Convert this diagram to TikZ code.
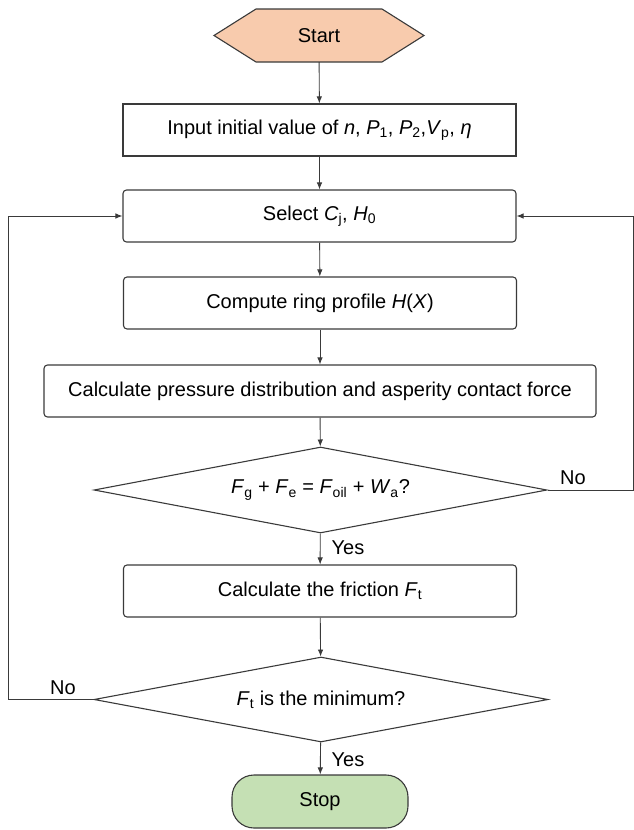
\documentclass[tikz,border=0pt]{standalone}
\usepackage{fontspec}
\setmainfont{Liberation Sans}
\usetikzlibrary{arrows.meta,shapes.geometric}
\definecolor{peach}{HTML}{F8CBAD}
\definecolor{mint}{HTML}{C5E0B4}
\definecolor{edge}{HTML}{3A3A3A}
\newcommand{\lo}[1]{\textsubscript{#1}}
\begin{document}
\begin{tikzpicture}[x=1pt,y=-1pt,
  txt/.style={font=\fontsize{20}{24}\selectfont},
  box/.style={txt, draw=edge, line width=1.1pt, minimum width=393pt, minimum height=52pt, inner sep=0pt},
  rbox/.style={box, rounded corners=3.5pt},
  dia/.style={txt, shape=diamond, draw=edge, line width=1.1pt, aspect=5.3, inner sep=0pt, minimum width=453pt, minimum height=86pt},
  arr/.style={draw=edge, line width=0.9pt, -{Latex[length=7pt,width=5.5pt]}},
  lbl/.style={txt, inner sep=0pt}
]
\useasboundingbox (0,0) rectangle (634,830);

% Start
\fill[peach] (214,35.5) -- (256,9) -- (382,9) -- (424,35.5) -- (382,62) -- (256,62) -- cycle;
\draw[edge, line width=1.1pt] (214,35.5) -- (256,9) -- (382,9) -- (424,35.5) -- (382,62) -- (256,62) -- cycle;
\node[txt, minimum width=210pt, minimum height=53pt, inner sep=0pt] (start) at (319,35.5) {Start};

\node[box] (input) at (319.5,130) {Input initial value of \textit{n}, \textit{P}\lo{1}, \textit{P}\lo{2},\textit{V}\lo{p}, \textit{η}};
\node[rbox] (select) at (319.5,216) {Select \textit{C}\lo{j}, \textit{H}\lo{0}};
\node[rbox] (compute) at (320,303) {Compute ring profile \textit{H}(\textit{X})};
\node[rbox, minimum width=552pt] (pressure) at (320,391) {Calculate pressure distribution and asperity contact force};
\node[dia] (d1) at (320.5,490) {\textit{F}\lo{g} + \textit{F}\lo{e} = \textit{F}\lo{oil} + \textit{W}\lo{a}?};
\node[rbox] (fric) at (320,591) {Calculate the friction \textit{F}\lo{t}};
\node[dia, minimum width=454pt, minimum height=85pt] (d2) at (321,699.5) {\textit{F}\lo{t} is the minimum?};
\node[txt, draw=edge, line width=1.1pt, fill=mint, minimum width=176pt, minimum height=53pt, rounded corners=22pt, inner sep=0pt] (stop) at (320,801.5) {Stop};

\draw[arr] (start) -- (input);
\draw[arr] (input) -- (select);
\draw[arr] (select) -- (compute);
\draw[arr] (compute) -- (pressure);
\draw[arr] (pressure) -- (d1);
\draw[arr] (d1) -- (fric);
\draw[arr] (fric) -- (d2);
\draw[arr] (d2) -- (stop);

\coordinate (lft) at (8,699.5);
\coordinate (rgt) at (633.5,490);
\draw[arr] (d2.west) -- (lft) |- (select.west);
\draw[arr] (d1.east) -- (rgt) |- (select.east);

\node[lbl] (no1) at (573,478) {No};
\node[lbl] (no2) at (63,688) {No};
\node[lbl] (yes1) at (348,548) {Yes};
\node[lbl] (yes2) at (348,760) {Yes};
\end{tikzpicture}
\end{document}
